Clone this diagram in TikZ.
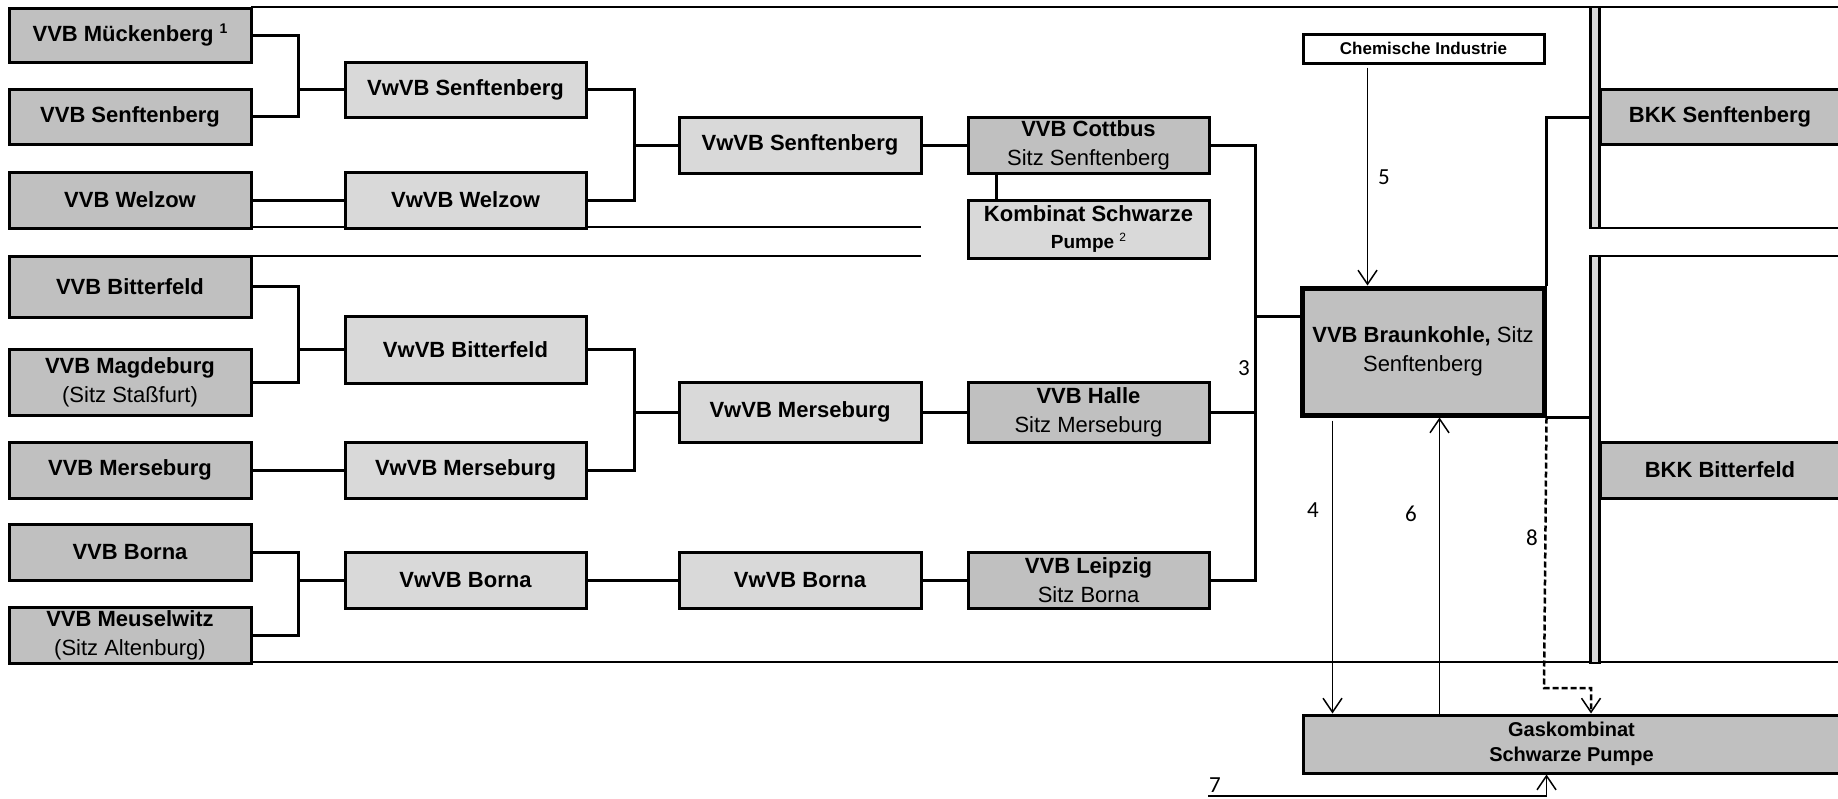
\documentclass[tikz,border=0pt]{standalone}
\usepackage{fontspec}
\setmainfont{Liberation Sans}
\newfontfamily\numfont{Carlito}
\usetikzlibrary{arrows.meta}
\definecolor{gdark}{HTML}{C0C0C0}
\definecolor{glight}{HTML}{D9D9D9}
\begin{document}
\begin{tikzpicture}[x=1pt,y=-1pt,
  box/.style={draw, line width=3pt, inner sep=0pt, align=center, minimum width=242pt, minimum height=56pt, font=\fontsize{22}{29}\selectfont\bfseries},
  dbox/.style={box, fill=gdark},
  lbox/.style={box, fill=glight},
  conn/.style={line width=3pt},
  sep/.style={line width=1.5pt},
  arr/.style={line width=1.5pt, -{Straight Barb[length=14pt,width=19pt,line width=1.5pt]}},
  num/.style={font=\numfont\fontsize{23}{23}\selectfont, inner sep=0pt},
  barbox/.style={draw, line width=2.5pt, fill=glight, minimum width=9pt, inner sep=0pt}
]
\fill[white] (0,0) rectangle (1838,798);
\useasboundingbox (0,0) rectangle (1838,798);

% separator lines
\draw[sep] (251,7) -- (1838,7);
\draw[sep] (251,227) -- (921,227);
\draw[sep] (251,256) -- (921,256);
\draw[sep] (1600,228) -- (1838,228);
\draw[sep] (1600,256) -- (1838,256);
\draw[sep] (251,662) -- (1838,662);

% column 1
\node[dbox, minimum height=54pt] (m1) at (130,35) {VVB Mückenberg \raisebox{8pt}{\fontsize{14}{14}\selectfont 1}};
\node[dbox, minimum height=55pt] (m2) at (130,116.5) {VVB Senftenberg};
\node[dbox] (m3) at (130,200) {VVB Welzow};
\node[dbox, minimum height=61pt] (b1) at (130,286.5) {VVB Bitterfeld};
\node[dbox, minimum height=66pt] (b2) at (130,382) {VVB Magdeburg\\\mdseries (Sitz Staßfurt)};
\node[dbox] (b3) at (130,470) {VVB Merseburg};
\node[dbox] (b4) at (130,552) {VVB Borna};
\node[dbox] (b5) at (130,635) {VVB Meuselwitz\\\mdseries (Sitz Altenburg)};

% column 2
\node[lbox, minimum width=241pt, minimum height=55pt] (v1) at (465.5,89.5) {VwVB Senftenberg};
\node[lbox, minimum width=241pt] (v2) at (465.5,200) {VwVB Welzow};
\node[lbox, minimum width=241pt, minimum height=67pt] (v3) at (465.5,349.5) {VwVB Bitterfeld};
\node[lbox, minimum width=241pt] (v4) at (465.5,470) {VwVB Merseburg};
\node[lbox, minimum width=241pt] (v5) at (465.5,580) {VwVB Borna};

% column 3
\node[lbox] (c1) at (800,145) {VwVB Senftenberg};
\node[lbox, minimum height=60pt] (c2) at (800,412) {VwVB Merseburg};
\node[lbox] (c3) at (800,580) {VwVB Borna};

% column 4
\node[dbox, minimum width=241pt] (d1) at (1088.5,145) {VVB Cottbus\\\mdseries Sitz Senftenberg};
\node[lbox, minimum width=241pt, minimum height=58pt, font=\fontsize{22}{27}\selectfont\bfseries] (k) at (1088.5,229) {Kombinat Schwarze\\{\fontsize{19}{19}\selectfont Pumpe \raisebox{7pt}{\fontsize{12}{12}\selectfont\mdseries 2}}};
\node[dbox, minimum width=241pt, minimum height=60pt] (d2) at (1088.5,412) {VVB Halle\\\mdseries Sitz Merseburg};
\node[dbox, minimum width=241pt] (d3) at (1088.5,580) {VVB Leipzig\\\mdseries Sitz Borna};

% right part
\node[box, fill=white, minimum width=241pt, minimum height=29pt, font=\fontsize{17}{17}\selectfont\bfseries] (ch) at (1423.5,48.5) {Chemische Industrie};
\node[dbox, line width=5pt, minimum height=127pt] (bk) at (1423,351.5) {VVB Braunkohle, {\mdseries Sitz}\\{\mdseries Senftenberg}};
\node[dbox, minimum width=537pt, minimum height=58pt, font=\fontsize{20}{25}\selectfont\bfseries] (gk) at (1571.5,744) {Gaskombinat\\Schwarze Pumpe};

\node[dbox, minimum width=240pt, minimum height=55pt] (bkk1) at (1720,116.5) {BKK Senftenberg};
\node[dbox, minimum width=240pt, minimum height=56pt] (bkk2) at (1720,470) {BKK Bitterfeld};
\node[barbox, minimum height=221pt] (bar1) at (1595,117.5) {};
\node[barbox, minimum height=407pt] (bar2) at (1595,459.5) {};

% connectors group 1
\coordinate (j1) at (298,89.5);
\draw[conn] (m1.east) -| (j1) |- (m2.east);
\draw[conn] (j1) -- (v1.west);
\draw[conn] (m3.east) -- (v2.west);
\coordinate (j2) at (634,145);
\draw[conn] (v1.east) -| (j2) |- (v2.east);
\draw[conn] (j2) -- (c1.west);
\draw[conn] (c1.east) -- (d1.west);
\draw[conn] ([xshift=30pt]d1.south west) -- ([xshift=30pt]k.north west);

% group 2
\coordinate (j3) at (298,349.5);
\draw[conn] (b1.east) -| (j3) |- (b2.east);
\draw[conn] (j3) -- (v3.west);
\draw[conn] (b3.east) -- (v4.west);
\coordinate (j4) at (634,412);
\draw[conn] (v3.east) -| (j4) |- (v4.east);
\draw[conn] (j4) -- (c2.west);
\draw[conn] (c2.east) -- (d2.west);

% group 3
\coordinate (j5) at (298,580);
\draw[conn] (b4.east) -| (j5) |- (b5.east);
\draw[conn] (j5) -- (v5.west);
\draw[conn] (v5.east) -- (c3.west);
\draw[conn] (c3.east) -- (d3.west);

% right bracket
\coordinate (j6) at (1255,316);
\draw[conn] (d1.east) -| (j6) |- (d3.east);
\draw[conn] (d2.east) -- (d2.east -| j6);
\draw[conn] (j6) -- (j6 -| bk.west);

% to BKK
\draw[conn] (bk.north east) |- (bar1.west);
\draw[conn] (bk.south east) -- (bk.south east -| bar2.west);

% arrows
\draw[arr] ([xshift=-56pt,yshift=-3pt]ch.south) -- ([xshift=-56pt]ch.south |- bk.north);
\draw[arr] ([xshift=33pt,yshift=-3pt]bk.south west) -- ([xshift=33pt]bk.south west |- gk.north);
\draw[arr] ([xshift=140pt]bk.south west |- gk.north) -- ([xshift=140pt]bk.south west);
\coordinate (d8) at (1544,688);
\draw[line width=2.5pt, dash pattern=on 6pt off 3pt, -{Straight Barb[length=14pt,width=19pt,line width=1.5pt]}] (bk.south east) -- (d8) -| ([xshift=-4pt]bar2.south |- gk.north);
\coordinate (s7) at (1208,796);
\draw[arr] (s7) -| (gk.south -| bk.south east);

% labels
\node[num] at (1244,368) {3};
\node[num] at (1313,510) {4};
\node[num] at (1384,177) {5};
\node[num] at (1411,514) {6};
\node[num] at (1215,785) {7};
\node[num] at (1532,538) {8};
\end{tikzpicture}
\end{document}
